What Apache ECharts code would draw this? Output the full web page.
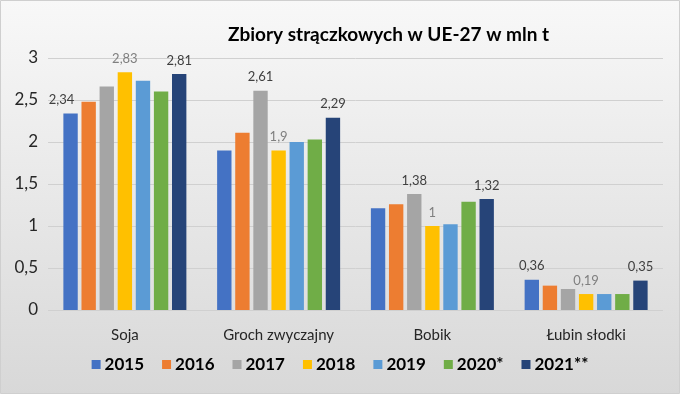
<!DOCTYPE html>
<html>
<head>
<meta charset="utf-8">
<script src="https://cdn.jsdelivr.net/npm/echarts@6/dist/echarts.min.js"></script>
<style>html,body{margin:0;padding:0;background:#fff}#c{width:680px;height:394px}</style>
</head>
<body>
<div id="c"></div>
<script>
const categories = ['Soja', 'Groch zwyczajny', 'Bobik', 'Łubin słodki'];
const years = ['2015', '2016', '2017', '2018', '2019', '2020*', '2021**'];
const v2015 = [2.34, 1.9, 1.21, 0.36];
const v2016 = [2.48, 2.11, 1.26, 0.29];
const v2017 = [2.66, 2.61, 1.38, 0.25];
const v2018 = [2.83, 1.9, 1.0, 0.19];
const v2019 = [2.73, 2.0, 1.02, 0.19];
const v2020 = [2.6, 2.03, 1.29, 0.19];
const v2021 = [2.81, 2.29, 1.32, 0.35];
const yTicks = [0, 0.5, 1, 1.5, 2, 2.5, 3];
// which category indexes carry a value label, per series
const shownLabels = [[0, 3], [], [1, 2], [0, 1, 2, 3], [], [], [0, 1, 2, 3]];

const colors = ['#4472C4', '#ED7D31', '#A5A5A5', '#FFC000', '#5B9BD5', '#70AD47', '#264478'];
const allValues = [v2015, v2016, v2017, v2018, v2019, v2020, v2021];
const FONT = 'Lato, "Open Sans", sans-serif';
const fmt = v => String(v).replace('.', ',');

const series = years.map((y, si) => ({
  name: y,
  type: 'bar',
  barGap: '26%',
  barCategoryGap: '20%',
  itemStyle: { color: colors[si] },
  data: allValues[si].map((v, ci) => {
    const show = shownLabels[si].includes(ci);
    const item = { value: v };
    item.label = {
      show: show,
      position: 'top',
      distance: 7,
      formatter: p => fmt(p.value),
      fontFamily: FONT,
      fontSize: 13,
      color: si === 3 ? '#7f7f7f' : '#404040'
    };
    if (show && si === 0 && ci === 0) item.label.offset = [-9, 0];
    return item;
  })
}));

const chart = echarts.init(document.getElementById('c'), null, { renderer: 'canvas' });
chart.setOption({
  animation: false,
  color: colors,
  graphic: [{
    type: 'rect', z: -100, silent: true,
    shape: { x: 0.5, y: 0.5, width: 679, height: 393 },
    style: {
      fill: { type: 'linear', x: 0, y: 0, x2: 0, y2: 1, colorStops: [
        { offset: 0, color: '#f8f8f8' }, { offset: 1, color: '#d8d8d8' }] },
      stroke: '#cfcfcf', lineWidth: 1
    }
  }],
  title: {
    text: 'Zbiory strączkowych w UE-27 w mln t',
    left: 223, top: 20,
    textStyle: { fontFamily: FONT, fontWeight: 'bold', fontSize: 19, color: '#000' }
  },
  grid: { left: 48, right: 17, top: 58, bottom: 84, containLabel: false },
  xAxis: {
    type: 'category',
    data: categories,
    axisLine: { show: false },
    axisTick: { show: false },
    axisLabel: { margin: 18, fontFamily: FONT, fontSize: 15, color: '#262626' }
  },
  yAxis: {
    type: 'value',
    min: yTicks[0], max: yTicks[yTicks.length - 1], interval: 0.5,
    axisLine: { show: false },
    axisTick: { show: false },
    splitLine: { lineStyle: { color: '#d0d0d0', width: 1 } },
    axisLabel: { margin: 10, fontFamily: FONT, fontSize: 17, color: '#262626', formatter: v => fmt(v) }
  },
  legend: {
    data: years,
    bottom: 16,
    left: 'center',
    icon: 'rect',
    itemWidth: 9, itemHeight: 9,
    itemGap: 18,
    textStyle: { fontFamily: FONT, fontWeight: 'bold', fontSize: 17, color: '#000', padding: [0, 0, 0, -1] }
  },
  series: series
});
</script>
</body>
</html>
